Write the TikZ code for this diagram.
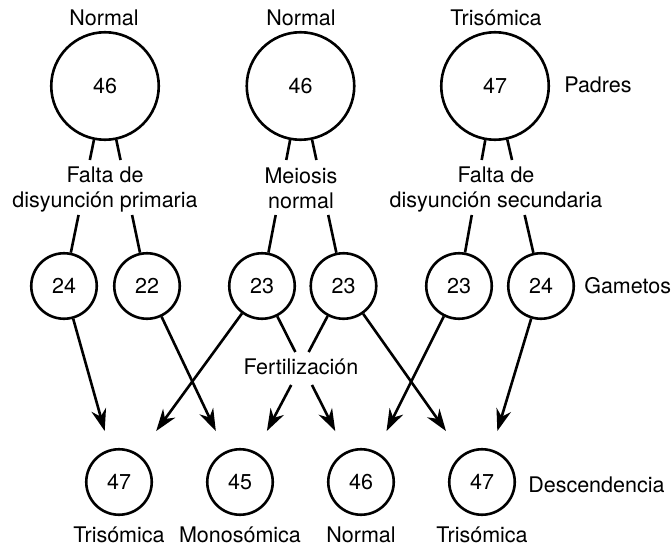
\documentclass[tikz,border=0pt]{standalone}
\usepackage{fontspec}
\setmainfont{TeX Gyre Heros}
\usetikzlibrary{arrows.meta,calc}
\begin{document}
\begin{tikzpicture}[x=1pt,y=-1pt, line width=2.6pt,
  every node/.style={font=\fontsize{21.5}{25}\selectfont},
  big/.style={draw, circle, minimum size=107.5pt, inner sep=0pt},
  small/.style={draw, circle, minimum size=65.5pt, inner sep=0pt},
  lbl/.style={anchor=base, inner sep=0pt},
  lblw/.style={anchor=base west, inner sep=0pt},
  two/.style={align=center, inner sep=0pt},
  arr/.style={-{Stealth[length=22pt,width=15pt,inset=7pt]}}]
\useasboundingbox (0,0) rectangle (671,548);
% parents
\node[big] (p1) at (105,86) {46};
\node[big] (p2) at (300.5,86) {46};
\node[big] (p3) at (495,86) {47};
\node[lbl] (tp1) at (104,26) {Normal};
\node[lbl] (tp2) at (301,26) {Normal};
\node[lbl] (tp3) at (496,26) {Trisómica};
\node[lblw] (padres) at (563,93) {Padres};
% gametes
\node[small] (g1) at (64,286) {24};
\node[small] (g2) at (147,286) {22};
\node[small] (g3) at (262,286) {23};
\node[small] (g4) at (343.5,286) {23};
\node[small] (g5) at (459,286) {23};
\node[small] (g6) at (541,286) {24};
\node[lblw] (gametos) at (583,293) {Gametos};
% offspring
\node[small] (o1) at (119,482) {47};
\node[small] (o2) at (240,482) {45};
\node[small] (o3) at (361,482) {46};
\node[small] (o4) at (482,482) {47};
\node[lbl] (bo1) at (119,542) {Trisómica};
\node[lbl] (bo2) at (240,542) {Monosómica};
\node[lbl] (bo3) at (361,542) {Normal};
\node[lbl] (bo4) at (482,542) {Trisómica};
\node[lblw] (desc) at (527,492) {Descendencia};
% meiosis labels
\node[two] (m1) at (105,190) {Falta de\\disyunción primaria};
\node[two] (m2) at (301,188) {Meiosis\\normal};
\node[two] (m3) at (496,190) {Falta de\\disyunción secundaria};
\node[lbl] (fert) at (301,374) {Fertilización};
% parent -> gametes (interrupted by the labels)
\foreach \p/\g in {p1/g1,p1/g2,p2/g3,p2/g4,p3/g5,p3/g6}{
  \draw (\p) -- ($(\p)!0.37!(\g)$);
  \draw ($(\p)!0.645!(\g)$) -- (\g);
}
% gametes -> offspring
\foreach \g/\o in {g1/o1,g2/o2,g3/o1,g4/o4,g5/o3,g6/o4}{
  \draw[arr] (\g) -- ($(\g)!0.74!(\o)$);
}
% through the fertilization label
\foreach \g/\o in {g3/o3,g4/o2}{
  \draw (\g) -- ($(\g)!0.337!(\o)$);
  \draw[arr] ($(\g)!0.505!(\o)$) -- ($(\g)!0.74!(\o)$);
}
\end{tikzpicture}
\end{document}
